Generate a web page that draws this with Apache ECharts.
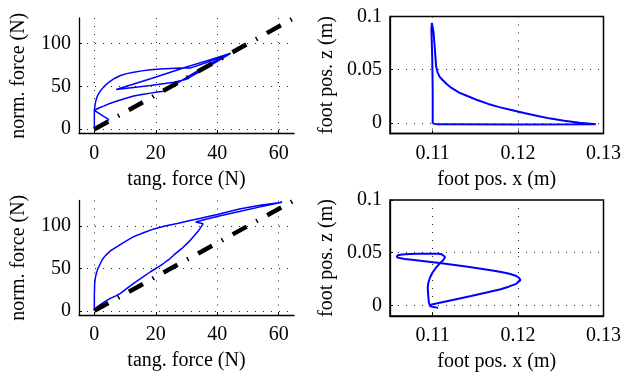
<!DOCTYPE html>
<html>
<head>
<meta charset="utf-8">
<script src="https://cdn.jsdelivr.net/npm/echarts@6/dist/echarts.min.js"></script>
<style>
  html, body { margin: 0; padding: 0; background: #fff; }
  #chart { width: 624px; height: 381px; }
</style>
</head>
<body>
<div id="chart"></div>
<script>
// tick values
const forceXTicks = [0, 20, 40, 60];
const forceYTicks = [0, 50, 100];
const posXTicks = [0.11, 0.12, 0.13];
const posZTicks = [0, 0.05, 0.1];

// friction cone line
const coneTang = [0, 65];
const coneNorm = [0, 130];

// top left: forces, first step
const tang1 = [0, 0, 0.2, 0.5, 0.9, 1.4, 2.1, 3.0, 4.0, 5.2, 6.7, 8.5, 10.5, 12.8, 15.5, 18.3, 21.5, 24.8, 28.0, 31.4, 37.0, 44.4,
  37.0, 29.7, 18.3, 7.1, 18.3, 25.9, 30.0, 37.0, 44.4,
  37.0, 31.0, 27.0, 22.6, 20.5, 18.3, 15.5, 12.8, 10.0, 7.4, 5.0, 3.0, 1.3, 0, 4.7, 0];
const norm1 = [0, 22, 28, 33.7, 38, 41.5, 45.5, 49.2, 52.8, 56.2, 59.6, 62.8, 65.0, 66.7, 68.2, 69.4, 70.3, 71.0, 71.5, 71.7, 78.5, 88.7,
  80.5, 72.5, 59.0, 46.5, 51.2, 55.0, 58.5, 73.0, 88.7,
  75.5, 62.5, 54.0, 44.5, 43.5, 42.2, 40.5, 38.8, 36.0, 33.0, 30.0, 27.0, 24.5, 22, 11.3, 0];

// top right: foot position, first step
const footX1 = [0.1100, 0.1100, 0.10995, 0.10985, 0.10990, 0.11005, 0.1101, 0.11018, 0.11025, 0.11032, 0.1104, 0.1105, 0.1106, 0.1108,
  0.1111, 0.1116, 0.1122, 0.1131, 0.1142, 0.1153, 0.1165, 0.1178, 0.1192, 0.1207, 0.1223, 0.1238, 0.1254, 0.1272, 0.1291,
  0.1290, 0.1200, 0.1105, 0.1100];
const footZ1 = [-0.0005, 0.03, 0.06, 0.088, 0.094, 0.093, 0.085, 0.077, 0.07, 0.062, 0.0535, 0.0495, 0.047, 0.0435,
  0.0408, 0.0368, 0.0328, 0.0285, 0.0248, 0.0212, 0.0178, 0.0148, 0.0121, 0.0092, 0.0064, 0.004, 0.0019, 0.0002, -0.0013,
  -0.0017, -0.0016, -0.0014, -0.0005];

// bottom left: forces, second step
const tang2 = [0, 0, 0.1, 0.3, 0.65, 1.2, 2.0, 2.7, 3.6, 5.2, 7.4, 10.0, 12.8, 16.0, 19.4, 23.0, 27.0, 30.8, 34.6, 40.0, 47.2, 54.0, 61.1,
  54.0, 47.2, 41.0, 36.3, 33.0, 35.4, 34.1, 32.5, 30.8, 28.5, 25.9, 24.3, 22.6, 20.5, 18.3, 15.5, 12.8, 10.5, 8.5, 7.0, 5.2, 3.0, 0.9, 0];
const norm2 = [0, 18.5, 32, 38.5, 44, 50, 56, 61, 65, 70.5, 75.6, 81.5, 87.4, 92, 96.5, 100, 103, 106, 109, 113.5, 120, 124.5, 128,
  122.5, 117, 112, 108, 104.7, 102.5, 95.3, 88.5, 81.5, 73.5, 65.8, 60.5, 56, 51, 46, 39, 32.3, 26, 20.5, 17.5, 14.6, 9.8, 4.7, 0];

// bottom right: foot position, second step
const footX2 = [0.11065, 0.10969, 0.10955, 0.1095, 0.10945, 0.10942, 0.1095, 0.10969, 0.10995, 0.11027, 0.11062, 0.11096, 0.11125, 0.11142,
  0.11145, 0.11134, 0.11105, 0.11065, 0.1095, 0.10834, 0.1073, 0.10642, 0.1059, 0.10573, 0.1058, 0.10603, 0.1067, 0.10758, 0.1093,
  0.11104, 0.11411, 0.11719, 0.1183, 0.11911, 0.1197, 0.12007, 0.12027, 0.12027, 0.12005, 0.1197, 0.1189, 0.11796, 0.1163, 0.1145,
  0.1122, 0.10988, 0.1097];
const footZ2 = [-0.0023, -0.0007, 0.003, 0.0073, 0.012, 0.0169, 0.022, 0.0265, 0.0308, 0.0346, 0.038, 0.041, 0.043, 0.0442,
  0.046, 0.0474, 0.0485, 0.049, 0.0491, 0.049, 0.0488, 0.0484, 0.0477, 0.0467, 0.0456, 0.0448, 0.044, 0.0433, 0.0417,
  0.04, 0.0368, 0.033, 0.0312, 0.0298, 0.0282, 0.0265, 0.025, 0.024, 0.0222, 0.0202, 0.0178, 0.0154, 0.0122, 0.0089,
  0.005, 0.001, -0.0005];

const zip = (a, b) => a.map((v, i) => [v, b[i]]);

const FONT = 'Liberation Serif';
const BLUE = '#0000ff';
const gridDots = { show: true, lineStyle: { color: '#222', width: 1, type: [1, 7] } };

function xAxisCfg(idx, name, min, max, ticks) {
  return {
    type: 'value', gridIndex: idx, min: min, max: max,
    name: name, nameLocation: 'middle', nameGap: 36,
    nameTextStyle: { fontFamily: FONT, fontSize: 20, color: '#000' },
    axisLine: { show: true, onZero: false, lineStyle: { color: '#000', width: 1.3 } },
    axisTick: { show: true, inside: true, length: 3, customValues: ticks, lineStyle: { color: '#000' } },
    axisLabel: { customValues: ticks, margin: 10, fontFamily: FONT, fontSize: 20, color: '#000', formatter: v => String(v) },
    splitLine: gridDots
  };
}
function yAxisCfg(idx, name, min, max, ticks, gap) {
  return {
    type: 'value', gridIndex: idx, min: min, max: max,
    name: name, nameLocation: 'middle', nameGap: gap,
    nameTextStyle: { fontFamily: FONT, fontSize: 20, color: '#000' },
    axisLine: { show: true, onZero: false, lineStyle: { color: '#000', width: 1.3 } },
    axisTick: { show: true, inside: true, length: 3, customValues: ticks, lineStyle: { color: '#000' } },
    axisLabel: { customValues: ticks, margin: 8, fontFamily: FONT, fontSize: 20, color: '#000', formatter: v => String(v) },
    splitLine: gridDots
  };
}

const chart = echarts.init(document.getElementById('chart'));
chart.setOption({
  animation: false,
  backgroundColor: '#fff',
  grid: [
    { left: 79, top: 18, width: 215, height: 115.5 },
    { left: 390, top: 16.5, width: 215, height: 117, show: true, borderColor: '#000', borderWidth: 1.5 },
    { left: 79, top: 200.5, width: 215, height: 114.5 },
    { left: 390, top: 200, width: 215, height: 116, show: true, borderColor: '#000', borderWidth: 1.5 }
  ],
  xAxis: [
    xAxisCfg(0, 'tang. force (N)', -5, 65, forceXTicks),
    xAxisCfg(1, 'foot pos. x (m)', 0.105, 0.13, posXTicks),
    xAxisCfg(2, 'tang. force (N)', -5, 65, forceXTicks),
    xAxisCfg(3, 'foot pos. x (m)', 0.105, 0.13, posXTicks)
  ],
  yAxis: [
    yAxisCfg(0, 'norm. force (N)', -5, 130, forceYTicks, 50),
    yAxisCfg(1, 'foot pos. z (m)', -0.01, 0.1, posZTicks, 53),
    yAxisCfg(2, 'norm. force (N)', -5, 130, forceYTicks, 50),
    yAxisCfg(3, 'foot pos. z (m)', -0.01, 0.1, posZTicks, 53)
  ],
  series: [
    { type: 'line', xAxisIndex: 0, yAxisIndex: 0, data: zip(tang1, norm1), showSymbol: false,
      lineStyle: { color: BLUE, width: 1.5 }, z: 2 },
    { type: 'line', xAxisIndex: 0, yAxisIndex: 0, data: zip(coneTang, coneNorm), showSymbol: false,
      lineStyle: { color: '#000', width: 4.5, type: [16, 11, 1.5, 11], cap: 'butt' }, z: 3 },
    { type: 'line', xAxisIndex: 1, yAxisIndex: 1, data: zip(footX1, footZ1), showSymbol: false,
      lineStyle: { color: BLUE, width: 2 }, z: 2 },
    { type: 'line', xAxisIndex: 2, yAxisIndex: 2, data: zip(tang2, norm2), showSymbol: false,
      lineStyle: { color: BLUE, width: 1.5 }, z: 2 },
    { type: 'line', xAxisIndex: 2, yAxisIndex: 2, data: zip(coneTang, coneNorm), showSymbol: false,
      lineStyle: { color: '#000', width: 4.5, type: [16, 11, 1.5, 11], cap: 'butt' }, z: 3 },
    { type: 'line', xAxisIndex: 3, yAxisIndex: 3, data: zip(footX2, footZ2), showSymbol: false,
      lineStyle: { color: BLUE, width: 2 }, z: 2 }
  ]
});
</script>
</body>
</html>
